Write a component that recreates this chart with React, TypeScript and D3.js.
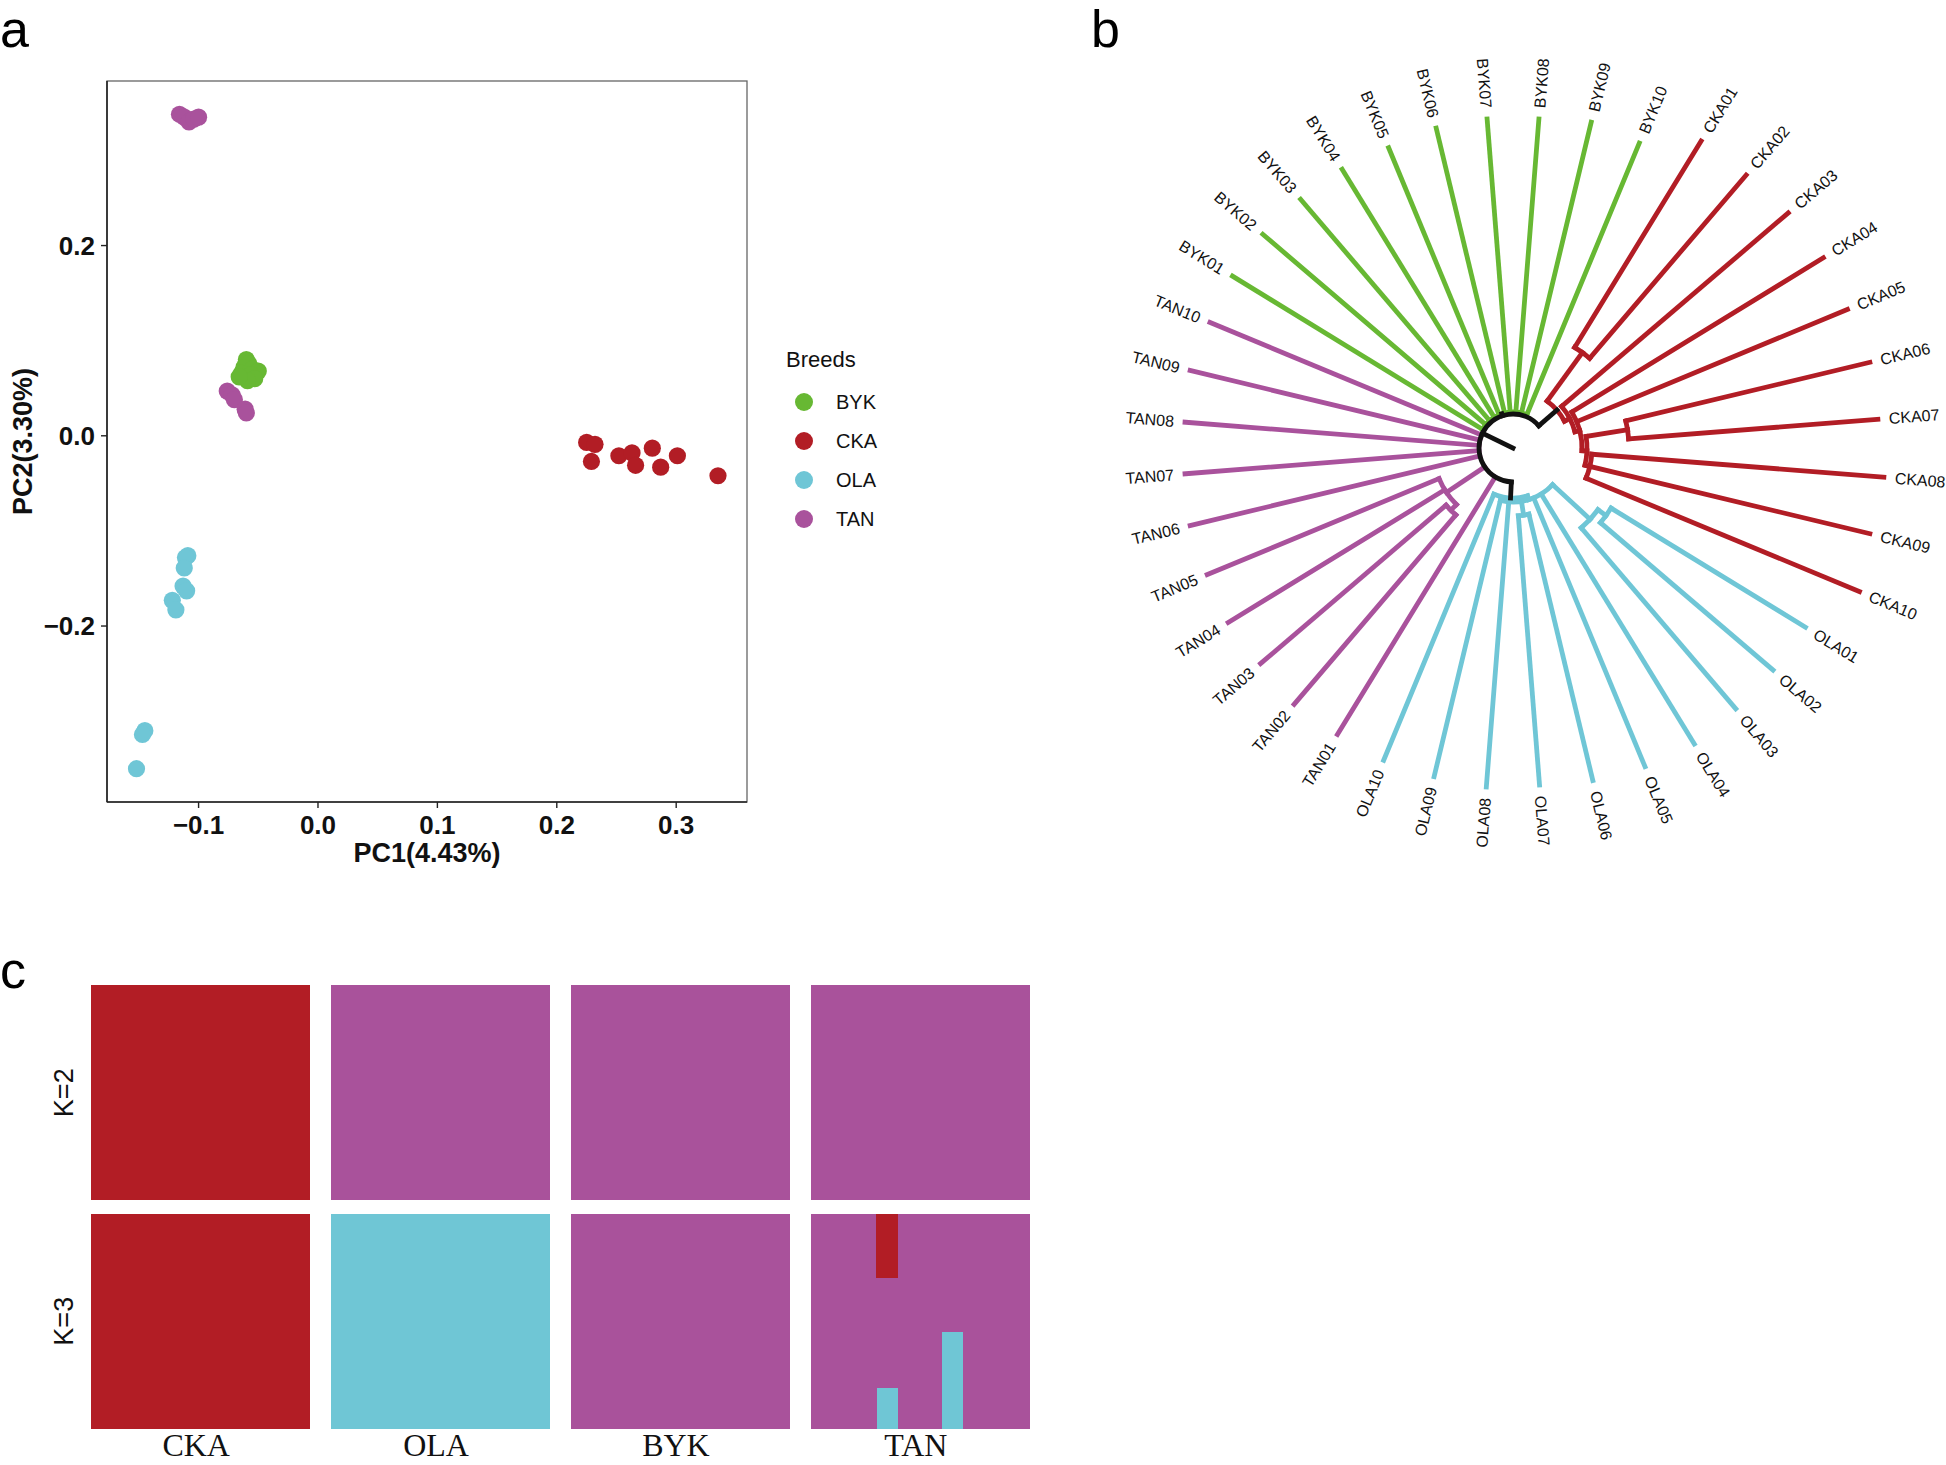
import React from "react";
import * as d3 from "d3";

const W = 1946;
const H = 1465;

// ---------- colours ----------
const breedColor: Record<string, string> = {
  BYK: "#67B833",
  CKA: "#B21D25",
  OLA: "#6FC6D6",
  TAN: "#A9529C",
};
const legendBreeds = ["BYK", "CKA", "OLA", "TAN"];

// ---------- panel a : PCA ----------
const pcaBYK = [[-0.060, 0.080], [-0.058, 0.076], [-0.062, 0.072], [-0.055, 0.070], [-0.050, 0.068], [-0.064, 0.066], [-0.056, 0.064], [-0.053, 0.060], [-0.059, 0.058], [-0.066, 0.062]];
const pcaCKA = [[0.225, -0.007], [0.232, -0.009], [0.229, -0.027], [0.252, -0.021], [0.263, -0.018], [0.266, -0.031], [0.280, -0.013], [0.287, -0.033], [0.301, -0.021], [0.335, -0.042]];
const pcaOLA = [[-0.109, -0.126], [-0.111, -0.128], [-0.112, -0.139], [-0.113, -0.158], [-0.110, -0.163], [-0.122, -0.173], [-0.119, -0.183], [-0.145, -0.310], [-0.147, -0.314], [-0.152, -0.350]];
const pcaTAN = [[-0.116, 0.338], [-0.112, 0.335], [-0.108, 0.330], [-0.104, 0.333], [-0.100, 0.335], [-0.076, 0.047], [-0.072, 0.043], [-0.070, 0.038], [-0.061, 0.028], [-0.060, 0.024]];
const pcaXTicks = [-0.1, 0.0, 0.1, 0.2, 0.3];
const pcaYTicks = [-0.2, 0.0, 0.2];
const pcaXLabel = "PC1(4.43%)";
const pcaYLabel = "PC2(3.30%)";

// ---------- panel b : tree ----------
const ckaIds = ["CKA01", "CKA02", "CKA03", "CKA04", "CKA05", "CKA06", "CKA07", "CKA08", "CKA09", "CKA10"];
const olaIds = ["OLA01", "OLA02", "OLA03", "OLA04", "OLA05", "OLA06", "OLA07", "OLA08", "OLA09", "OLA10"];
const tanIds = ["TAN01", "TAN02", "TAN03", "TAN04", "TAN05", "TAN06", "TAN07", "TAN08", "TAN09", "TAN10"];
const bykIds = ["BYK01", "BYK02", "BYK03", "BYK04", "BYK05", "BYK06", "BYK07", "BYK08", "BYK09", "BYK10"];
// distance of each tip from the root
const ckaTip = [0.360, 0.359, 0.362, 0.364, 0.362, 0.367, 0.366, 0.372, 0.367, 0.375];
const olaTip = [0.343, 0.342, 0.343, 0.347, 0.345, 0.342, 0.338, 0.340, 0.338, 0.338];
const tanTip = [0.336, 0.337, 0.332, 0.334, 0.331, 0.332, 0.329, 0.329, 0.332, 0.328];
const bykTip = [0.329, 0.329, 0.327, 0.327, 0.325, 0.329, 0.330, 0.330, 0.335, 0.330];
// distance of internal nodes from the root
const nodeDepth: Record<string, number> = {
  root: 0, A: 0.034,
  CKA: 0.058, C12: 0.118, N1: 0.064, N2: 0.069, N3: 0.074, C67: 0.116, N4: 0.079,
  OLA: 0.050, O1: 0.054, Z: 0.105, Z2: 0.115, W: 0.068,
  X: 0.080, Y: 0.088, BYK: 0.036,
};

// ---------- panel c : admixture ----------
const admixBreeds = ["CKA", "OLA", "BYK", "TAN"];
const admixK = ["K=2", "K=3"];
// per individual, breeds in order CKA, OLA, BYK, TAN (10 each)
const k2Red = [1, 1, 1, 1, 1, 1, 1, 1, 1, 1, 0, 0, 0, 0, 0, 0, 0, 0, 0, 0, 0, 0, 0, 0, 0, 0, 0, 0, 0, 0, 0, 0, 0, 0, 0, 0, 0, 0, 0, 0];
const k2Cyan = [0, 0, 0, 0, 0, 0, 0, 0, 0, 0, 0, 0, 0, 0, 0, 0, 0, 0, 0, 0, 0, 0, 0, 0, 0, 0, 0, 0, 0, 0, 0, 0, 0, 0, 0, 0, 0, 0, 0, 0];
const k3Red = [1, 1, 1, 1, 1, 1, 1, 1, 1, 1, 0, 0, 0, 0, 0, 0, 0, 0, 0, 0, 0, 0, 0, 0, 0, 0, 0, 0, 0, 0, 0, 0, 0, 0.30, 0, 0, 0, 0, 0, 0];
const k3Cyan = [0, 0, 0, 0, 0, 0, 0, 0, 0, 0, 1, 1, 1, 1, 1, 1, 1, 1, 1, 1, 0, 0, 0, 0, 0, 0, 0, 0, 0, 0, 0, 0, 0, 0.19, 0, 0, 0.45, 0, 0, 0];
const admixColor: Record<string, string> = { cyan: "#6FC6D5", purple: "#A9529B", red: "#B21D25" };

const sans = "'Liberation Sans', Arial, Helvetica, sans-serif";
const serif = "'Liberation Serif', 'Times New Roman', serif";

// ================= PCA panel =================
function PcaPanel() {
  const x = d3.scaleLinear().domain([-0.1767, 0.3593]).range([107, 747]);
  const y = d3.scaleLinear().domain([-0.385, 0.373]).range([802, 81]);
  const fmt = d3.format(".1f");
  const groups: [string, number[][]][] = [
    ["BYK", pcaBYK],
    ["CKA", pcaCKA],
    ["OLA", pcaOLA],
    ["TAN", pcaTAN],
  ];
  const legY = d3.scalePoint().domain(legendBreeds).range([402, 519]);
  const [x0, x1] = x.range();
  const [y0, y1] = y.range();
  return (
    <g>
      <text x={0} y={47} fontFamily={sans} fontSize={52}>a</text>
      <rect x={x0} y={y1} width={x1 - x0} height={y0 - y1} fill="none" stroke="#666" strokeWidth={1.3} />
      <line x1={x0} x2={x0} y1={y1} y2={y0} stroke="#222" strokeWidth={1.6} />
      <line x1={x0} x2={x1} y1={y0} y2={y0} stroke="#222" strokeWidth={1.6} />
      {pcaXTicks.map((t) => (
        <g key={"xt" + t}>
          <line x1={x(t)} x2={x(t)} y1={y0} y2={y0 + 6} stroke="#222" strokeWidth={1.4} />
          <text x={x(t)} y={834} textAnchor="middle" fontFamily={sans} fontWeight="bold" fontSize={26} fill="#111">{fmt(t)}</text>
        </g>
      ))}
      {pcaYTicks.map((t) => (
        <g key={"yt" + t}>
          <line x1={x0 - 6} x2={x0} y1={y(t)} y2={y(t)} stroke="#222" strokeWidth={1.4} />
          <text x={95} y={y(t)} dy="0.36em" textAnchor="end" fontFamily={sans} fontWeight="bold" fontSize={26} fill="#111">{fmt(t)}</text>
        </g>
      ))}
      <text x={(x0 + x1) / 2} y={862} textAnchor="middle" fontFamily={sans} fontWeight="bold" fontSize={27} fill="#111">{pcaXLabel}</text>
      <text transform={`translate(32,${(y0 + y1) / 2}) rotate(-90)`} textAnchor="middle" fontFamily={sans} fontWeight="bold" fontSize={27} fill="#111">{pcaYLabel}</text>
      {groups.map(([g, pts]) =>
        pts.map((p, i) => <circle key={g + i} cx={x(p[0])} cy={y(p[1])} r={8.6} fill={breedColor[g]} />)
      )}
      <text x={786} y={367} fontFamily={sans} fontSize={22} fill="#111">Breeds</text>
      {legendBreeds.map((g) => (
        <g key={"lg" + g}>
          <circle cx={804} cy={legY(g)} r={9} fill={breedColor[g]} />
          <text x={836} y={legY(g)} dy="0.36em" fontFamily={sans} fontSize={20} fill="#111">{g}</text>
        </g>
      ))}
    </g>
  );
}

// ================= Tree panel =================
type TNode = { name: string; grp?: string; depth: number; children?: TNode[] };

function buildTree(): TNode {
  const lf = (ids: string[], tips: number[], grp: string, i: number): TNode => ({ name: ids[i], grp, depth: tips[i] });
  const nd = (key: string, children: TNode[]): TNode => ({ name: key, depth: nodeDepth[key], children });
  const O = (i: number) => lf(olaIds, olaTip, "OLA", i);
  const T = (i: number) => lf(tanIds, tanTip, "TAN", i);
  const B = (i: number) => lf(bykIds, bykTip, "BYK", i);
  const C = (i: number) => lf(ckaIds, ckaTip, "CKA", i);
  return nd("root", [
    nd("A", [
      nd("OLA", [
        nd("O1", [nd("Z", [nd("Z2", [O(0), O(1)]), O(2)]), O(3), O(4), nd("W", [O(5), O(6)]), O(7), O(8)]),
        O(9),
      ]),
      T(0),
      nd("X", [nd("Y", [T(1), T(2)]), T(3), T(4)]),
      T(5), T(6), T(7), T(8), T(9),
      nd("BYK", bykIds.map((_, i) => B(i))),
      nd("CKA", [
        nd("C12", [C(0), C(1)]),
        nd("N1", [C(2), nd("N2", [C(3), C(4), nd("N3", [nd("C67", [C(5), C(6)]), nd("N4", [C(7), C(8), C(9)])])])]),
      ]),
    ]),
  ]);
}

function TreePanel() {
  const cx = 1513;
  const cy = 448;
  const root: any = d3.hierarchy(buildTree());
  const leaves = root.leaves();
  const ang = d3.scaleLinear().domain([0, leaves.length - 1]).range([121.5, 121.5 + 9 * (leaves.length - 1)]);
  const rad = d3.scaleLinear().domain([0, 0.4]).range([0, 400]);
  const groupSize: Record<string, number> = {};
  leaves.forEach((l: any, i: number) => {
    l.ang = ang(i);
    groupSize[l.data.grp] = (groupSize[l.data.grp] || 0) + 1;
  });
  root.eachAfter((n: any) => {
    if (n.children) n.ang = (n.children[0].ang + n.children[n.children.length - 1].ang) / 2;
    const gs = Array.from(new Set(n.leaves().map((l: any) => l.data.grp)));
    n.grp = gs.length === 1 ? gs[0] : null;
    n.nLeaves = n.leaves().length;
  });
  const pol = (r: number, deg: number) => {
    const a = (deg * Math.PI) / 180;
    return [cx + r * Math.sin(a), cy - r * Math.cos(a)];
  };
  type Seg = { d: string; color: string; key: string };
  const segs: Seg[] = [];
  root.each((n: any) => {
    if (n.parent) {
      const r0 = rad(n.parent.data.depth);
      const r1 = rad(n.data.depth);
      const [ax, ay] = pol(r0, n.ang);
      const [bx, by] = pol(r1, n.ang);
      const col =
        n.grp && (!n.children || n.nLeaves < groupSize[n.grp]) ? breedColor[n.grp] : "#111";
      segs.push({ d: `M${ax},${ay}L${bx},${by}`, color: col, key: "s" + n.data.name });
    }
    if (n.children && n.children.length > 1) {
      const r = rad(n.data.depth);
      const a0 = ((n.children[0].ang - 90) * Math.PI) / 180;
      const a1 = ((n.children[n.children.length - 1].ang - 90) * Math.PI) / 180;
      const p = d3.path();
      p.arc(cx, cy, r, a0, a1, false);
      segs.push({ d: p.toString(), color: n.grp ? breedColor[n.grp] : "#111", key: "a" + n.data.name });
    }
  });
  const colored = segs.filter((s) => s.color !== "#111");
  const black = segs.filter((s) => s.color === "#111");
  return (
    <g>
      <text x={1091} y={47} fontFamily={sans} fontSize={52}>b</text>
      {[...colored, ...black].map((s) => (
        <path key={s.key} d={s.d} fill="none" stroke={s.color} strokeWidth={4.8} strokeLinecap="square" />
      ))}
      {leaves.map((l: any) => {
        const th = ((l.ang % 360) + 360) % 360;
        const r = rad(l.data.depth) + 11;
        const [px, py] = pol(r, th);
        const flip = th > 180;
        const rot = flip ? th + 90 : th - 90;
        return (
          <text
            key={"lb" + l.data.name}
            transform={`translate(${px},${py}) rotate(${rot})`}
            textAnchor={flip ? "end" : "start"}
            dy="0.35em"
            fontFamily={sans}
            fontSize={16}
            fill="#111"
          >
            {l.data.name}
          </text>
        );
      })}
    </g>
  );
}

// ================= Admixture panel =================
function AdmixPanel() {
  const xb = d3.scaleBand().domain(admixBreeds).range([91, 1029]).paddingInner(0.0896);
  const ind = d3.scaleBand<number>().domain(d3.range(10)).range([0, xb.bandwidth()]);
  const yb = d3.scaleBand().domain(admixK).range([985, 1429]).paddingInner(0.057);
  const rows = [
    { k: "K=2", red: k2Red, cyan: k2Cyan },
    { k: "K=3", red: k3Red, cyan: k3Cyan },
  ];
  const keys = ["cyan", "purple", "red"];
  return (
    <g>
      <text x={0} y={988} fontFamily={sans} fontSize={52}>c</text>
      {rows.map((row) => {
        const recs = row.red.map((r, i) => ({
          breed: admixBreeds[Math.floor(i / 10)],
          idx: i % 10,
          red: r,
          cyan: row.cyan[i],
          purple: 1 - r - row.cyan[i],
        }));
        const stacked = d3.stack<any>().keys(keys)(recs);
        const top = yb(row.k) as number;
        const q = d3.scaleLinear().domain([0, 1]).range([top + yb.bandwidth(), top]);
        return (
          <g key={row.k}>
            {stacked.map((layer) =>
              layer.map((s, i) => {
                const d = s.data;
                if (s[1] - s[0] <= 0) return null;
                const x0 = (xb(d.breed) as number) + (ind(d.idx) as number);
                return (
                  <rect
                    key={layer.key + i}
                    x={x0}
                    width={ind.bandwidth() + 0.5}
                    y={q(s[1])}
                    height={q(s[0]) - q(s[1])}
                    fill={admixColor[layer.key]}
                    shapeRendering="crispEdges"
                  />
                );
              })
            )}
            <text
              transform={`translate(73,${top + yb.bandwidth() / 2}) rotate(-90)`}
              textAnchor="middle"
              fontFamily={sans}
              fontSize={27}
              fill="#111"
            >
              {row.k}
            </text>
          </g>
        );
      })}
      {admixBreeds.map((b) => (
        <text key={"bl" + b} x={(xb(b) as number) + xb.bandwidth() / 2 - 4} y={1456} textAnchor="middle" fontFamily={serif} fontSize={32} fill="#111">
          {b}
        </text>
      ))}
    </g>
  );
}

export default function App() {
  return (
    <svg
      width={W}
      height={H}
      viewBox={`0 0 ${W} ${H}`}
      style={{ position: "absolute", left: 0, top: 0, background: "#fff" }}
    >
      <rect x={0} y={0} width={W} height={H} fill="#fff" />
      <PcaPanel />
      <TreePanel />
      <AdmixPanel />
    </svg>
  );
}
